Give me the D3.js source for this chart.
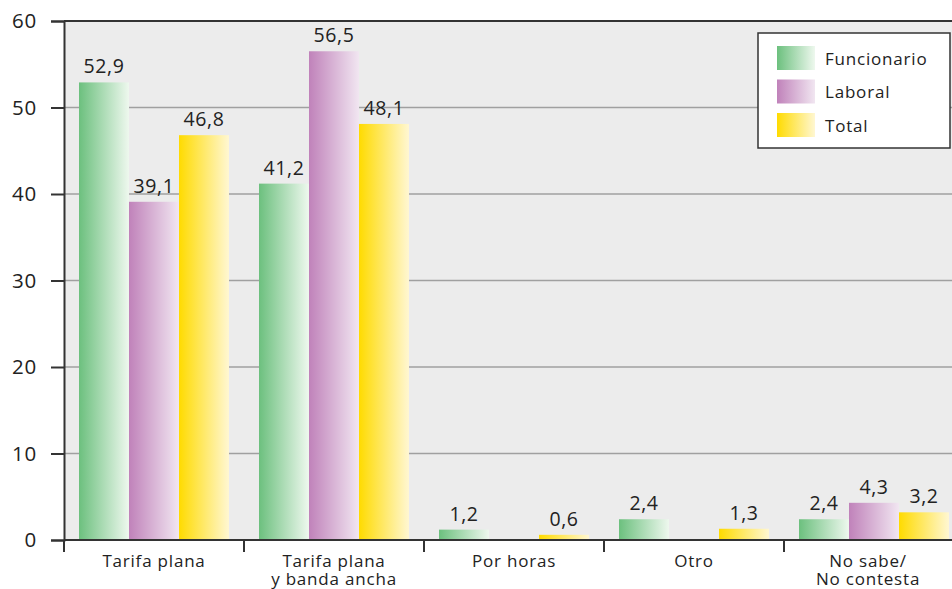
<!DOCTYPE html>
<html>
<head>
<meta charset="utf-8">
<style>
	body { margin: 0; background: #fff; }
	svg { display: block; font-family: "Open Sans", sans-serif; }
	.grid line { stroke: #a0a0a0; stroke-width: 1.5px; }
	.val { fill: #222; font-size: 19.5px; text-anchor: middle; letter-spacing: 0.6px; }
</style>
</head>
<body>
<script src="https://cdn.jsdelivr.net/npm/d3@7/dist/d3.min.js"></script>
<script>

	var categories = [["Tarifa plana"], ["Tarifa plana", "y banda ancha"], ["Por horas"], ["Otro"], ["No sabe/", "No contesta"]];
	var series = ["Funcionario", "Laboral", "Total"];
	var funcionario = [52.9, 41.2, 1.2, 2.4, 2.4];
	var laboral = [39.1, 56.5, null, null, 4.3];
	var total = [46.8, 48.1, 0.6, 1.3, 3.2];
	var yTicks = [0, 10, 20, 30, 40, 50, 60];

	var values = [funcionario, laboral, total];
	var colors = [["#6cc07e", "#eef8ee"], ["#c082ba", "#f1e6f1"], ["#ffdb00", "#fff7d2"]];

	var width = 952, height = 589;
	var plotL = 64, plotR = 964, plotT = 21, plotB = 540;

	var svg = d3.select("body").append("svg")
		.attr("width", width)
		.attr("height", height);

	var defs = svg.append("defs");
	colors.forEach(function(c, i) {
		var grad = defs.append("linearGradient")
			.attr("id", "g" + i)
			.attr("x1", "0").attr("x2", "1")
			.attr("y1", "0").attr("y2", "0");
		grad.append("stop").attr("offset", "0%").attr("stop-color", c[0]);
		grad.append("stop").attr("offset", "100%").attr("stop-color", c[1]);
	});

	var x = d3.scaleBand()
		.domain(d3.range(categories.length))
		.range([plotL, plotR]);

	var xs = d3.scaleBand()
		.domain(d3.range(series.length))
		.range([15, x.bandwidth() - 15]);

	var y = d3.scaleLinear()
		.domain([0, 60])
		.range([plotB, plotT]);

	// plot background
	svg.append("rect")
		.attr("x", plotL)
		.attr("y", plotT)
		.attr("width", plotR - plotL)
		.attr("height", plotB - plotT)
		.attr("fill", "#ececec");

	// grid lines
	svg.append("g")
		.attr("class", "grid")
		.selectAll("line")
		.data(yTicks.slice(1, -1))
		.enter().append("line")
		.attr("x1", plotL).attr("x2", plotR)
		.attr("y1", function(d) { return y(d); })
		.attr("y2", function(d) { return y(d); });

	// bars
	var groups = svg.selectAll(".grp")
		.data(categories)
		.enter().append("g")
		.attr("class", "grp")
		.attr("transform", function(d, i) { return "translate(" + x(i) + ",0)"; });

	groups.each(function(d, ci) {
		var g = d3.select(this);
		series.forEach(function(s, si) {
			var v = values[si][ci];
			if (v == null) return;
			g.append("rect")
				.attr("x", xs(si))
				.attr("y", y(v))
				.attr("width", xs.bandwidth())
				.attr("height", y(0) - y(v))
				.attr("fill", "url(#g" + si + ")");
			g.append("text")
				.attr("class", "val")
				.attr("x", xs(si) + xs.bandwidth() / 2)
				.attr("y", y(v) - 9)
				.text(String(v).replace(".", ","));
		});
	});

	// top border
	svg.append("line")
		.attr("x1", plotL).attr("x2", plotR)
		.attr("y1", plotT).attr("y2", plotT)
		.attr("stroke", "#333").attr("stroke-width", 2);

	// y axis
	var yAxis = svg.append("g")
		.attr("transform", "translate(" + plotL + ",0)")
		.call(d3.axisLeft(y).tickValues(yTicks).tickSize(13).tickPadding(14));
	yAxis.select(".domain").attr("stroke", "#333").attr("stroke-width", 2);
	yAxis.selectAll(".tick line").attr("stroke", "#333").attr("stroke-width", 2);
	yAxis.selectAll(".tick text")
		.attr("fill", "#222")
		.style("font-size", "20.5px")
		.style("letter-spacing", "0.8px")
		.style("font-family", "'Open Sans', sans-serif");

	// x axis
	var xAxis = svg.append("g")
		.attr("transform", "translate(0," + plotB + ")");
	xAxis.append("line")
		.attr("x1", plotL).attr("x2", plotR)
		.attr("stroke", "#333").attr("stroke-width", 2);
	xAxis.selectAll(".xt")
		.data(d3.range(categories.length))
		.enter().append("line")
		.attr("x1", function(i) { return x(i); })
		.attr("x2", function(i) { return x(i); })
		.attr("y1", 0).attr("y2", 12)
		.attr("stroke", "#333").attr("stroke-width", 2);

	xAxis.selectAll(".cat")
		.data(categories)
		.enter().append("text")
		.attr("text-anchor", "middle")
		.attr("fill", "#222")
		.style("font-size", "17px")
		.style("letter-spacing", "0.8px")
		.attr("transform", function(d, i) { return "translate(" + (x(i) + x.bandwidth() / 2 - (i == 4 ? 6 : 0)) + ",0)"; })
		.each(function(d) {
			var t = d3.select(this);
			d.forEach(function(line, k) {
				t.append("tspan").attr("x", 0).attr("y", 27 + k * 18).text(line);
			});
		});

	// legend
	var legend = svg.append("g").attr("transform", "translate(758,33)");
	legend.append("rect")
		.attr("width", 192).attr("height", 115)
		.attr("fill", "#fff").attr("stroke", "#333").attr("stroke-width", 1.5);
	series.forEach(function(s, i) {
		legend.append("rect")
			.attr("x", 19).attr("y", 13 + i * 33.5)
			.attr("width", 38).attr("height", 24)
			.attr("fill", "url(#g" + i + ")");
		legend.append("text")
			.attr("x", 67).attr("y", 25 + i * 33.5)
			.attr("dominant-baseline", "central")
			.attr("fill", "#222")
			.style("font-size", "17px")
			.style("letter-spacing", "0.8px")
			.text(s);
	});

</script>
</body>
</html>
